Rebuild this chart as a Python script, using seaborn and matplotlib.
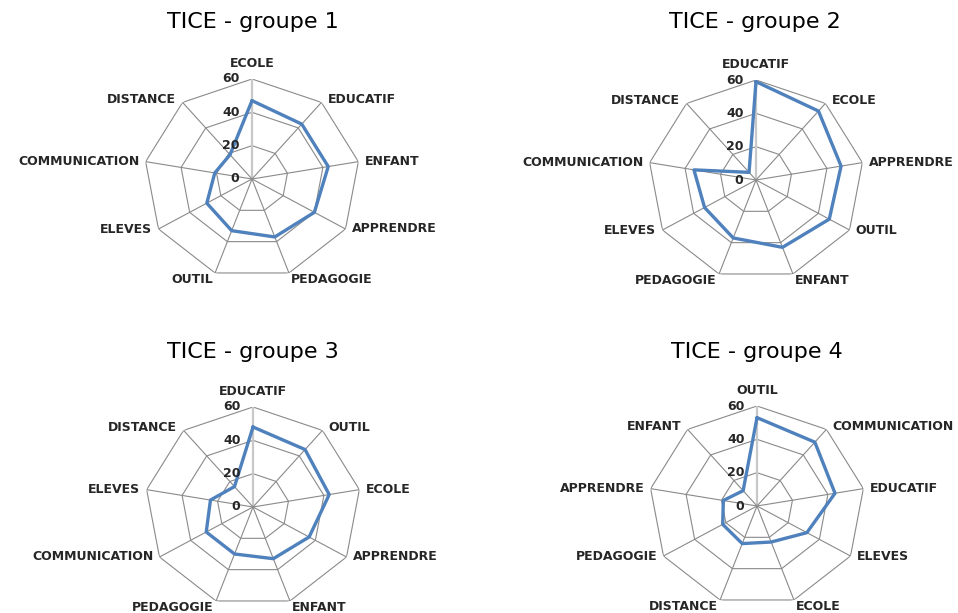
import numpy as np
import pandas as pd
import matplotlib.pyplot as plt
import seaborn as sns

labels_g1 = ["ECOLE", "EDUCATIF", "ENFANT", "APPRENDRE", "PEDAGOGIE", "OUTIL", "ELEVES", "COMMUNICATION", "DISTANCE"]
values_g1 = [47, 43, 43, 40, 37, 33, 29, 21, 19]

labels_g2 = ["EDUCATIF", "ECOLE", "APPRENDRE", "OUTIL", "ENFANT", "PEDAGOGIE", "ELEVES", "COMMUNICATION", "DISTANCE"]
values_g2 = [59, 54, 48, 47, 43, 37, 33, 35, 6]

labels_g3 = ["EDUCATIF", "OUTIL", "ECOLE", "APPRENDRE", "ENFANT", "PEDAGOGIE", "COMMUNICATION", "ELEVES", "DISTANCE"]
values_g3 = [48, 45, 43, 36, 33, 30, 30, 24, 16]

labels_g4 = ["OUTIL", "COMMUNICATION", "EDUCATIF", "ELEVES", "ECOLE", "DISTANCE", "PEDAGOGIE", "APPRENDRE", "ENFANT"]
values_g4 = [53, 50, 44, 32, 23, 24, 22, 19, 12]

titles = ["TICE - groupe 1", "TICE - groupe 2", "TICE - groupe 3", "TICE - groupe 4"]
ticks = [0, 20, 40, 60]

W, H = 958, 613
GRID = "#8a8a8a"
LINE = "#4F81BD"
TXT = "#262626"


def radar(ax, labels, values):
    n = len(labels)
    angles = np.linspace(0, 2 * np.pi, n, endpoint=False)
    ax.set_theta_zero_location("N")
    ax.set_theta_direction(-1)
    ax.set_aspect("auto")
    ax.grid(False)
    ax.spines["polar"].set_visible(False)
    ax.set_facecolor("none")

    closed = np.append(angles, angles[0])
    for r in ticks[1:]:
        ax.plot(closed, [r] * (n + 1), color=GRID, lw=0.8, zorder=1)
    for i, a in enumerate(angles):
        if i == 0:
            ax.plot([a, a], [0, ticks[-1]], color="#c8c8c8", lw=1.6, zorder=1)
        else:
            ax.plot([a, a], [0, ticks[-1]], color=GRID, lw=0.8, zorder=1)

    df = pd.DataFrame({"angle": np.append(angles, 2 * np.pi),
                       "value": list(values) + [values[0]]})
    sns.lineplot(data=df, x="angle", y="value", sort=False, ax=ax,
                 color=LINE, lw=2.4, zorder=3)

    ax.set_ylim(0, ticks[-1])
    ax.set_xticks([])
    ax.set_yticks([])
    ax.set_xlabel("")
    ax.set_ylabel("")

    for t in ticks:
        ax.annotate(str(t), xy=(0, t), xytext=(-9, 0), textcoords="offset points",
                    ha="right", va="center", fontsize=9, fontweight="bold",
                    color=TXT, annotation_clip=False)

    for a, lab in zip(angles, labels):
        s, c = np.sin(a), np.cos(a)
        if abs(s) < 0.1:
            ha, off = "center", (0, 11)
        elif s > 0:
            ha, off = "left", (4.5, 0 if c > -0.6 else -4.5)
        else:
            ha, off = "right", (-4.5, 0 if c > -0.6 else -4.5)
        if c > 0.5 and abs(s) > 0.1:
            off = (off[0], 2)
        if c < -0.6:
            off = (1.5 if s > 0 else -1.5, -4.5)
        ax.annotate(lab, xy=(a, ticks[-1]), xytext=off, textcoords="offset points",
                    ha=ha, va="center", fontsize=9, fontweight="bold",
                    color=TXT, annotation_clip=False)


sns.set_style("white")
fig = plt.figure(figsize=(W / 100, H / 100), dpi=100)

centers = [(252, 179), (756, 180), (253, 507), (757, 506)]
title_pos = [(253, 22), (755, 22), (253, 352), (757, 352)]
all_labels = [labels_g1, labels_g2, labels_g3, labels_g4]
all_values = [values_g1, values_g2, values_g3, values_g4]
RX, RY = 108, 100

for (cx, cy), (tx, ty), labs, vals, title in zip(centers, title_pos, all_labels, all_values, titles):
    ax = fig.add_axes([(cx - RX) / W, (H - cy - RY) / H, 2 * RX / W, 2 * RY / H], projection="polar")
    radar(ax, labs, vals)
    fig.text(tx / W, 1 - ty / H, title, ha="center", va="center",
             fontsize=16, family="DejaVu Sans", color="black")

fig.savefig("out.png", dpi=100)
